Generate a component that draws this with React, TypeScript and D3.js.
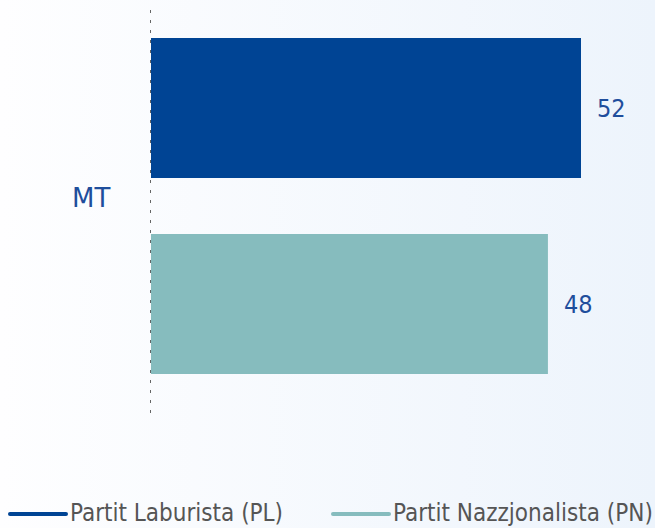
import React from "react";
import * as d3 from "d3";

const categories = ["MT"];
const seriesNames = ["Partit Laburista (PL)", "Partit Nazzjonalista (PN)"];
const seriesValues = [52, 48];
const seriesColors = ["#004494", "#86bcbe"];

const W = 655;
const H = 528;

export default function App() {
  const x = d3.scaleLinear().domain([0, 52]).range([151, 581]);
  const yCat = d3.scaleBand().domain(categories).range([10, 415]);
  const ySer = d3
    .scaleBand()
    .domain(seriesNames)
    .range([38, 374])
    .paddingInner(56 / 196);
  const font = "'DejaVu Sans', Verdana, sans-serif";
  const fontC = "'DejaVu Sans Condensed', 'DejaVu Sans', Verdana, sans-serif";
  const legendX = [10, 333];
  return (
    <svg
      width={W}
      height={H}
      style={{ position: "absolute", left: 0, top: 0, display: "block" }}
    >
      <defs>
        <linearGradient id="bg" x1="0" x2="1" y1="0" y2="0">
          <stop offset="0" stopColor="#fefeff" />
          <stop offset="1" stopColor="#edf4fc" />
        </linearGradient>
      </defs>
      <rect x={0} y={0} width={W} height={H} fill="url(#bg)" />
      <line
        x1={150.5}
        x2={150.5}
        y1={10}
        y2={415}
        stroke="#666"
        strokeWidth={1}
        strokeDasharray="3,7"
      />
      {seriesNames.map((s, i) => (
        <g key={s}>
          <rect
            x={x(0)}
            y={ySer(s)}
            width={x(seriesValues[i]) - x(0)}
            height={ySer.bandwidth()}
            fill={seriesColors[i]}
          />
          <text
            x={x(seriesValues[i]) + 16}
            y={(ySer(s) as number) + ySer.bandwidth() / 2}
            dy="0.36em"
            fontFamily={fontC}
            fontSize={25}
            fill="#1f4e9c"
          >
            {seriesValues[i]}
          </text>
        </g>
      ))}
      {categories.map((c) => (
        <text
          key={c}
          x={72}
          y={(yCat(c) as number) + yCat.bandwidth() / 2 - 15}
          dy="0.36em"
          fontFamily={font}
          fontSize={26}
          fill="#1f4e9c"
        >
          {c}
        </text>
      ))}
      {seriesNames.map((s, i) => (
        <g key={"leg" + s}>
          <line
            x1={legendX[i]}
            x2={legendX[i] + 56}
            y1={514}
            y2={514}
            stroke={seriesColors[i]}
            strokeWidth={4}
            strokeLinecap="round"
          />
          <text
            x={legendX[i] + 60}
            y={521}
            fontFamily={fontC}
            fontSize={24}
            fill="#555"
          >
            {s}
          </text>
        </g>
      ))}
    </svg>
  );
}
